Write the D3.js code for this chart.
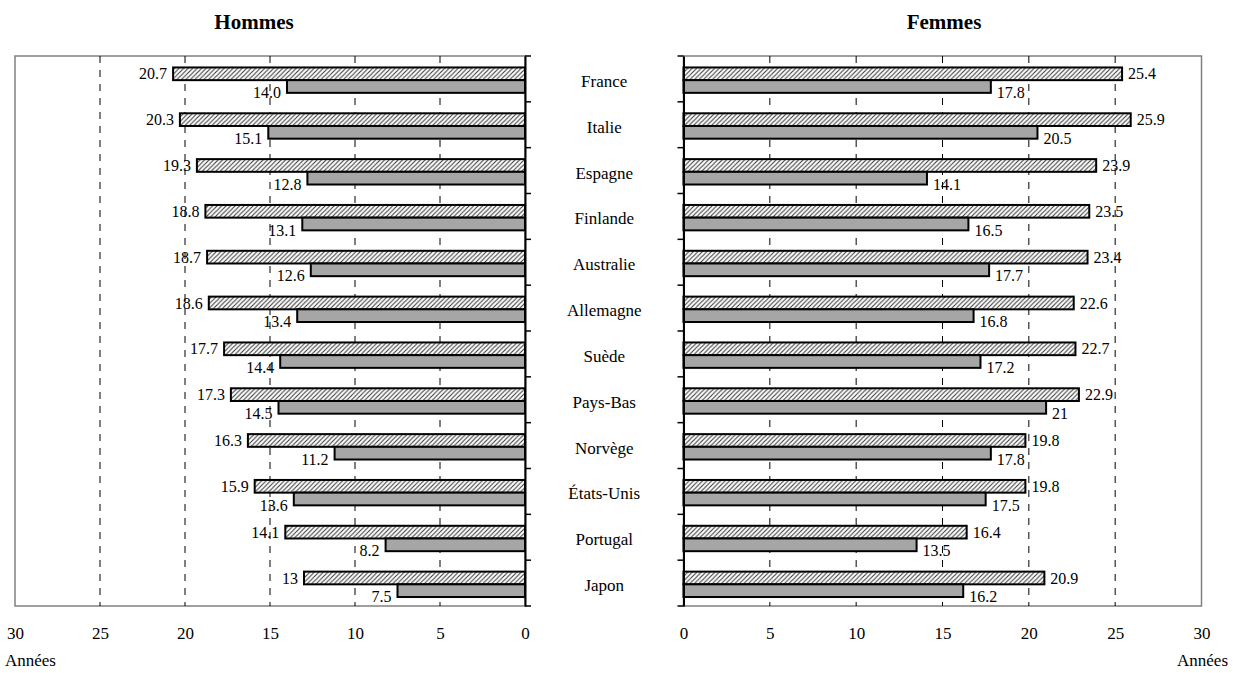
<!DOCTYPE html>
<html lang="fr">
<head>
<meta charset="utf-8">
<script src="https://cdn.jsdelivr.net/npm/d3@7"></script>
<style>
  html, body { margin: 0; padding: 0; background: #fff; }
  svg { display: block; font-family: "Liberation Serif", "Times New Roman", serif; }
</style>
</head>
<body>
<svg id="chart" width="1233" height="673"></svg>
<script>
// Pays (de haut en bas)
const countries = ["France", "Italie", "Espagne", "Finlande", "Australie", "Allemagne",
  "Suède", "Pays-Bas", "Norvège", "États-Unis", "Portugal", "Japon"];

// Hommes : série hachurée et série grise (valeurs telles qu'étiquetées)
const menHatched = ["20.7", "20.3", "19.3", "18.8", "18.7", "18.6", "17.7", "17.3", "16.3", "15.9", "14.1", "13"];
const menGray    = ["14.0", "15.1", "12.8", "13.1", "12.6", "13.4", "14.4", "14.5", "11.2", "13.6", "8.2", "7.5"];

// Femmes
const womenHatched = ["25.4", "25.9", "23.9", "23.5", "23.4", "22.6", "22.7", "22.9", "19.8", "19.8", "16.4", "20.9"];
const womenGray    = ["17.8", "20.5", "14.1", "16.5", "17.7", "16.8", "17.2", "21", "17.8", "17.5", "13.5", "16.2"];

// Axe des années
const xTicks = [0, 5, 10, 15, 20, 25, 30];
const gridTicks = [5, 10, 15, 20, 25];

const svg = d3.select("#chart");
const serif = '"Liberation Serif", "Times New Roman", serif';

const plotTop = 56, plotBottom = 606;
const y = d3.scaleBand().domain(countries).range([plotTop, plotBottom]).padding(0);
const bw = y.bandwidth();
const barOff = bw * 0.25, barH = bw * 0.277;

const xLeft = d3.scaleLinear().domain([0, 30]).range([525, 15]);
const xRight = d3.scaleLinear().domain([0, 30]).range([683.5, 1201.5]);

// Motif hachuré
const defs = svg.append("defs");
const hw = 4.5;
const pat = defs.append("pattern")
  .attr("id", "hatch").attr("patternUnits", "userSpaceOnUse")
  .attr("width", hw).attr("height", hw);
pat.append("rect").attr("width", hw).attr("height", hw).attr("fill", "#fff");
pat.append("path")
  .attr("d", `M-1,1 l2,-2 M0,${hw} l${hw},-${hw} M${hw - 1},${hw + 1} l2,-2`)
  .attr("stroke", "#3a3a3a").attr("stroke-width", 1.1);

function panel(x, hatched, gray, side, title, titleX) {
  const g = svg.append("g");
  const x0 = x(0), x30 = x(30);
  const xmin = Math.min(x0, x30), xmax = Math.max(x0, x30);

  // cadre gris
  g.append("rect")
    .attr("x", xmin).attr("y", plotTop)
    .attr("width", xmax - xmin).attr("height", plotBottom - plotTop)
    .attr("fill", "none").attr("stroke", "#808080").attr("stroke-width", 1.5);

  // quadrillage en tirets
  g.selectAll("line.grid").data(gridTicks).join("line")
    .attr("class", "grid")
    .attr("x1", d => x(d)).attr("x2", d => x(d))
    .attr("y1", plotTop).attr("y2", plotBottom)
    .attr("stroke", "#000").attr("stroke-width", 1)
    .attr("stroke-dasharray", "7,7");

  // barres hachurées
  g.selectAll("rect.h").data(countries).join("rect")
    .attr("class", "h")
    .attr("x", (c, i) => Math.min(x0, x(+hatched[i])))
    .attr("y", c => y(c) + barOff)
    .attr("width", (c, i) => Math.abs(x(+hatched[i]) - x0))
    .attr("height", barH)
    .attr("fill", "url(#hatch)").attr("stroke", "#000").attr("stroke-width", 2);

  // barres grises
  g.selectAll("rect.g").data(countries).join("rect")
    .attr("class", "g")
    .attr("x", (c, i) => Math.min(x0, x(+gray[i])))
    .attr("y", c => y(c) + barOff + barH)
    .attr("width", (c, i) => Math.abs(x(+gray[i]) - x0))
    .attr("height", barH)
    .attr("fill", "#a6a6a6").attr("stroke", "#000").attr("stroke-width", 2);

  // axe des catégories
  const ax = side === "left" ? d3.axisRight(y) : d3.axisLeft(y);
  const axG = g.append("g").attr("transform", `translate(${x0},0)`)
    .call(ax.tickValues([]).tickSizeOuter(0));
  axG.select(".domain").attr("stroke", "#000").attr("stroke-width", 2);
  const bounds = d3.range(countries.length + 1).map(i => plotTop + i * bw);
  g.selectAll("line.ct").data(bounds).join("line")
    .attr("class", "ct")
    .attr("x1", x0).attr("x2", side === "left" ? x0 + 6 : x0 - 6)
    .attr("y1", d => d).attr("y2", d => d)
    .attr("stroke", "#000").attr("stroke-width", 1.5);

  // étiquettes de valeur
  const dir = side === "left" ? -1 : 1;
  const anchor = side === "left" ? "end" : "start";
  g.selectAll("text.hl").data(countries).join("text")
    .attr("class", "hl")
    .attr("x", (c, i) => x(+hatched[i]) + dir * 6)
    .attr("y", c => y(c) + barOff + barH / 2)
    .attr("dy", "0.35em")
    .attr("text-anchor", anchor)
    .attr("font-size", 16).attr("font-family", serif)
    .text((c, i) => hatched[i]);
  g.selectAll("text.gl").data(countries).join("text")
    .attr("class", "gl")
    .attr("x", (c, i) => x(+gray[i]) + dir * 6)
    .attr("y", c => y(c) + barOff + barH * 1.5 + 6)
    .attr("dy", "0.35em")
    .attr("text-anchor", anchor)
    .attr("font-size", 16).attr("font-family", serif)
    .text((c, i) => gray[i]);

  // axe des années
  const bAx = d3.axisBottom(x).tickValues(xTicks).tickSize(0).tickPadding(0);
  const bG = g.append("g").attr("transform", `translate(0,${plotBottom})`).call(bAx);
  bG.select(".domain").remove();
  bG.selectAll("text")
    .attr("y", 33).attr("dy", 0)
    .attr("font-size", 17).attr("font-family", serif).attr("fill", "#000");

  // titre
  g.append("text")
    .attr("x", titleX).attr("y", 29)
    .attr("text-anchor", "middle")
    .attr("font-size", 21).attr("font-weight", "bold").attr("font-family", serif)
    .text(title);
}

panel(xLeft, menHatched, menGray, "left", "Hommes", 254);
panel(xRight, womenHatched, womenGray, "right", "Femmes", 944);

// noms des pays entre les deux panneaux
svg.append("g").selectAll("text").data(countries).join("text")
  .attr("x", (xLeft(0) + xRight(0)) / 2)
  .attr("y", c => y(c) + bw / 2 + 2)
  .attr("dy", "0.35em")
  .attr("text-anchor", "middle")
  .attr("font-size", 17).attr("font-family", serif)
  .text(c => c);

// libellés d'unité
svg.append("text").attr("x", 5).attr("y", 666)
  .attr("font-size", 17).attr("font-family", serif).text("Années");
svg.append("text").attr("x", 1228).attr("y", 666).attr("text-anchor", "end")
  .attr("font-size", 17).attr("font-family", serif).text("Années");
</script>
</body>
</html>
